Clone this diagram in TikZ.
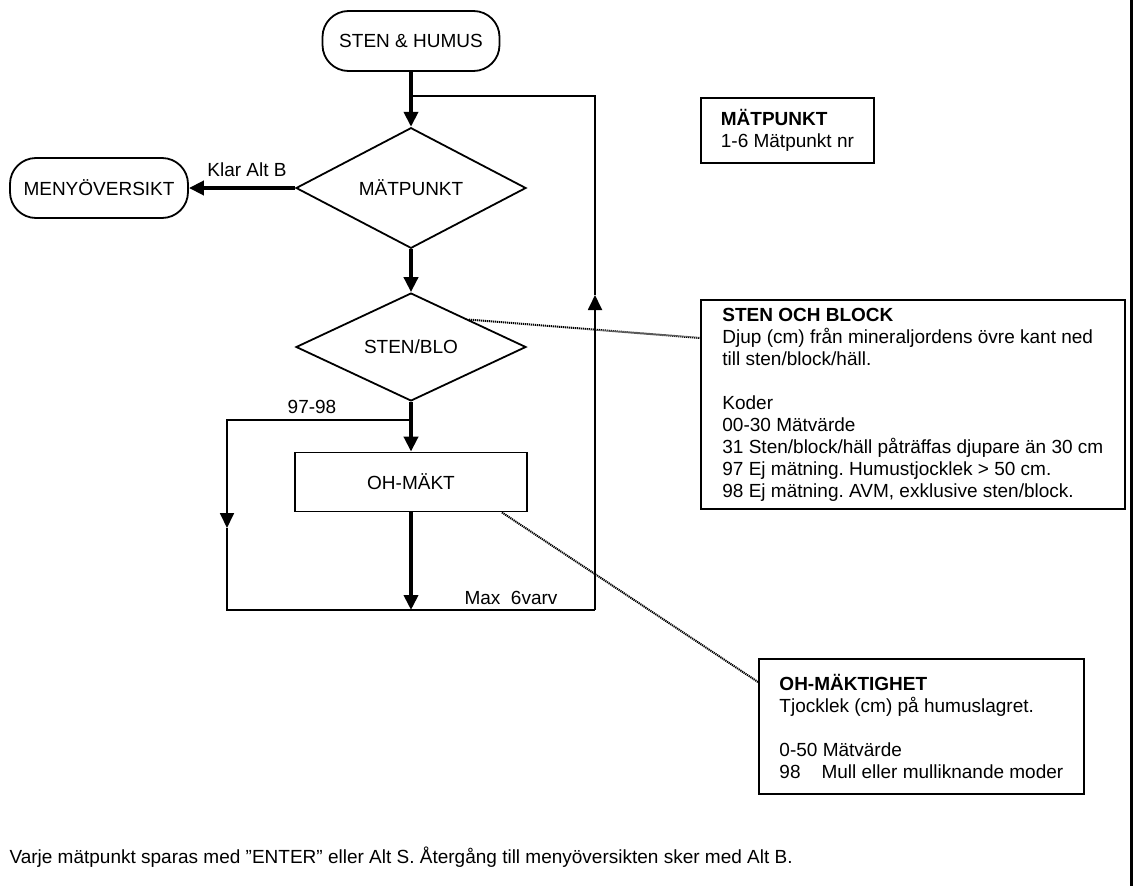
\documentclass[tikz,border=0pt]{standalone}
\usepackage{fontspec}
\setmainfont{Liberation Sans}
\frenchspacing
\usetikzlibrary{shapes.geometric,arrows.meta}
\tikzset{
  term/.style={draw,line width=1.8pt,rounded corners=26pt,minimum height=60pt},
  decide/.style={draw,diamond,line width=1.8pt,minimum width=230pt,minimum height=103pt,inner sep=0pt},
  proc/.style={draw,line width=1.8pt,minimum width=232pt,minimum height=59pt},
  info/.style={draw,line width=1.8pt,anchor=north west,align=left,inner sep=0pt},
  fatline/.style={line width=4pt},
  slimline/.style={line width=1.8pt},
  tip/.style={-{Triangle[length=15pt,width=14pt]}},
  dotlink/.style={line width=2pt,dash pattern=on 1.2pt off 0.8pt}
}

\begin{document}
\begin{tikzpicture}[x=1pt,y=-1pt,font=\fontsize{19pt}{22pt}\selectfont]
\useasboundingbox (0,0) rectangle (1135,886);
\node[term,minimum width=177pt] (hum) at (411,41) {STEN \& HUMUS};
\node[decide] (mat) at (411,188) {MÄTPUNKT};
\node[term,minimum width=178pt] (meny) at (99,188) {MENYÖVERSIKT};
\node[decide] (sten) at (411,347) {STEN/BLO};
\node[proc] (oh) at (411,482) {OH-MÄKT};
\node[info,minimum width=173pt,minimum height=65pt] (mpbox) at (700,97)
  {\textbf{MÄTPUNKT}\\1-6 Mätpunkt nr};
\node[info,minimum width=424pt,minimum height=209pt] (sobox) at (700,299)
  {\textbf{STEN OCH BLOCK}\\Djup (cm) från mineraljordens övre kant ned\\till sten/block/häll.\\[22pt]Koder\\00-30 Mätvärde\\31 Sten/block/häll påträffas djupare än 30 cm\\97 Ej mätning. Humustjocklek > 50 cm.\\98 Ej mätning. AVM, exklusive sten/block.};
\node[info,minimum width=325pt,minimum height=135pt] (ohbox) at (758,658)
  {\textbf{OH-MÄKTIGHET}\\Tjocklek (cm) på humuslagret.\\[22pt]0-50 Mätvärde\\98\hspace{1.1em}Mull eller mulliknande moder};
\node[anchor=west] (foot) at (6,857) {Varje mätpunkt sparas med ”ENTER” eller Alt S. Återgång till menyöversikten sker med Alt B.};
\node (klar) at (247,170) {Klar Alt B};
\node (lab9798) at (312,407) {97-98};
\node (maxv) at (511,598) {Max\ \ 6varv};
\coordinate (j1) at (411,96);
\coordinate (j2) at (411,420);
\coordinate (upr) at (595,96);
\coordinate (lowr) at (595,610);
\coordinate (lowl) at (227,610);
\coordinate (lowm) at (411,610);
\coordinate (tipl) at (227,528);
\coordinate (tipr) at (595,295);
\draw[fatline,tip] (hum) -- (mat);
\draw[fatline,tip] (mat) -- (meny);
\draw[fatline,tip] (mat) -- (sten);
\draw[fatline,tip] (sten) -- (oh);
\draw[fatline,tip] (oh) -- (lowm);
\draw[slimline,tip] (j2) -| (tipl);
\draw[slimline] (tipl) -- (lowl) -- (lowr);
\draw[slimline,tip] (lowr) -- (tipr);
\draw[slimline] (tipr) -- (upr) -- (j1);
\draw[dotlink] (sten.north east) -- ([yshift=-39pt]sobox.north west);
\draw[dotlink] ([xshift=-26pt]oh.south east) -- ([yshift=-24pt]ohbox.north west);
\draw[line width=3pt] (1131,0) -- (1131,886);
\end{tikzpicture}
\end{document}
